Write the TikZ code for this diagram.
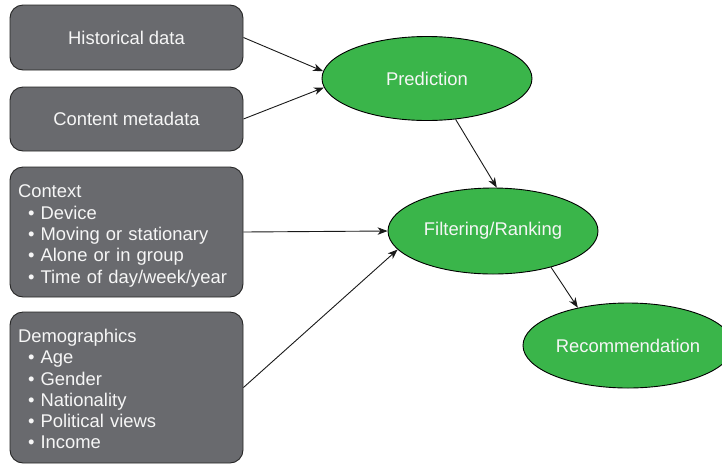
\documentclass[tikz,border=0pt]{standalone}
\usepackage{fontspec}
\setmainfont{Liberation Sans}
\usetikzlibrary{arrows.meta,shapes.geometric}
\definecolor{boxgray}{RGB}{105,106,110}
\definecolor{ovalgreen}{RGB}{58,181,74}
\definecolor{txtwhite}{RGB}{246,246,246}
\tikzset{
  infobox/.style={draw=black!85, line width=0.9pt, fill=boxgray, rounded corners=13pt,
    minimum width=233pt, text=txtwhite, inner xsep=8pt,
    font=\fontsize{18.4pt}{21.3pt}\selectfont},
  listbox/.style={infobox, align=left, text width=217pt},
  oval/.style={ellipse, draw=black, line width=0.9pt, fill=ovalgreen, text=txtwhite,
    inner sep=0pt, font=\fontsize{18.4pt}{21.3pt}\selectfont},
  link/.style={draw=black!90, line width=0.9pt, -{Stealth[length=10pt,width=7.5pt,inset=3pt]}}
}
\newcommand{\itm}{\\\hspace*{10pt}•\ }
\begin{document}
\begin{tikzpicture}[x=1pt,y=-1pt]
\useasboundingbox (0,0) rectangle (722,464);
\begin{scope}
\clip (0,0) rectangle (722,464);
\node[infobox, minimum height=65pt] (hist) at (126.5,37.5) {Historical data};
\node[infobox, minimum height=64pt] (cont) at (126.5,119) {Content metadata};
\node[listbox, minimum height=130pt] (ctx) at (126.5,232)
  {\rule{0pt}{21pt}Context\itm Device\itm Moving or stationary\itm Alone or in group\itm Time of day/week/year};
\node[listbox, minimum height=151pt] (dem) at (126.5,387.5)
  {\rule{0pt}{16.5pt}Demographics\itm Age\itm Gender\itm Nationality\itm Political views\itm Income};
\node[oval, minimum width=210pt, minimum height=84pt] (pred) at (427,78.5) {Prediction};
\node[oval, minimum width=210pt, minimum height=86pt] (filt) at (493,231) {Filtering/Ranking};
\node[oval, minimum width=210pt, minimum height=85pt] (rec) at (628,345.5) {Recommendation};
\end{scope}
\draw[link] (hist.east) -- (pred.176);
\draw[link] (cont.east) -- (pred.185);
\draw[link] (pred.-55) -- (filt.85);
\draw[link] (ctx.east) -- (filt.west);
\draw[link] (dem.east) -- (filt.191);
\draw[link] (filt.-32) -- (rec.143);
\end{tikzpicture}
\end{document}
